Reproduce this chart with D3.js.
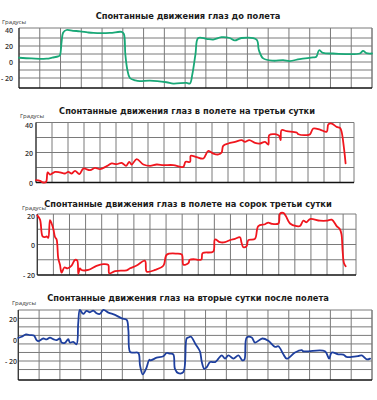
<!DOCTYPE html>
<html>
<head>
<meta charset="utf-8">
<script src="https://cdn.jsdelivr.net/npm/d3@7"></script>
<style>
  body { margin: 0; background: #fff; }
  text { font-family: "Open Sans", sans-serif; }
  .title { font-family: "Liberation Sans Narrow", "DejaVu Sans Condensed", sans-serif; }
</style>
</head>
<body>
<svg id="chart" width="377" height="400"></svg>
<script>
// chart titles and axis words
const titles = [
  "Спонтанные движения глаз до полета",
  "Спонтанные движения глаз в полете на третьи сутки",
  "Спонтанные движения глаз в полете на сорок третьи сутки",
  "Спонтанные движения глаз на вторые сутки после полета"
];
const unitLabel = "Градусы";

// [time (grid columns), degrees]
const beforeFlight = [
  [0,5.3],[0.6,4.5],[1.33,4.1],[1.6,5.5],[1.89,7],[1.97,8.5],[2.05,25],[2.13,37],[2.29,40],
  [2.6,39],[2.94,38.4],[3.3,37],[3.58,36.3],[4.38,36.3],[4.94,37.6],[5.05,35],[5.12,10],
  [5.22,-10],[5.34,-20],[5.6,-23],[5.82,-24],[6.3,-23.3],[7.1,-25.3],[7.43,-27],[8.07,-26],
  [8.23,-27],[8.35,-15],[8.5,10],[8.63,30],[9.03,29],[9.35,28],[9.75,31],[10.15,30],
  [10.39,27],[10.71,30],[11.44,28],[11.55,15],[11.76,4.5],[12.24,1.6],[12.72,2.4],
  [13.04,1.2],[13.52,3.7],[14.16,5.7],[14.32,6.5],[14.45,14.7],[14.64,11.4],[15.12,10.6],
  [16.41,10.6],[16.57,13.9],[16.73,11],[17,10.6]
];
const flightDay3 = [
  [0,1.6],[0.25,1.1],[0.46,0],[0.63,0.4],[0.73,6.7],[0.88,5.3],[1.19,7.1],[1.5,6.7],
  [1.81,6],[2.02,7.1],[2.23,6],[2.44,7.8],[2.71,5.6],[2.96,9.3],[3.38,8.2],[3.69,9.8],
  [4,8.9],[4.42,10.9],[4.73,12.7],[5.04,12.2],[5.35,13.1],[5.63,11.1],[5.83,13.8],
  [5.98,12],[6.29,15.6],[6.71,12],[7.13,11.1],[7.54,12],[7.96,11.6],[8.58,11.6],
  [9.2,10.4],[9.35,13.8],[9.63,13.8],[9.67,17.8],[10.04,16.9],[10.46,16],[10.77,21.1],
  [11.08,19.3],[11.4,18.7],[11.6,20],[11.7,24.4],[12.02,26],[12.44,27.1],[12.85,28.2],
  [13.06,27.1],[13.33,28.2],[13.69,26.4],[14,26],[14.31,27.1],[14.52,25.3],[14.58,31.6],
  [14.94,32.2],[15.2,31.1],[15.29,28.2],[15.35,34.9],[15.67,34.2],[16.29,33.3],
  [16.4,32.2],[16.92,31.6],[17.13,32.2],[17.33,36],[17.75,35.3],[18.17,33.8],
  [18.27,38.7],[18.48,39.3],[18.79,37.1],[19,36.4],[19.1,33.8],[19.25,22.7],[19.35,12.7]
];
const flightDay43 = [
  [0,19.1],[0.17,16.3],[0.33,5.3],[0.48,4.9],[0.58,5.3],[0.68,4.4],[0.79,16],[0.89,13.8],
  [1,10],[1.1,4.9],[1.2,3.3],[1.3,-8.9],[1.41,-13.3],[1.51,-18.5],[1.68,-15.1],
  [1.88,-15.6],[2.13,-13.8],[2.34,-10.1],[2.48,-10.5],[2.55,-19.3],[2.65,-15.6],
  [2.75,-16.7],[3.17,-16.7],[3.68,-14],[4.1,-12.9],[4.41,-13.4],[4.47,-18.9],
  [4.83,-17.4],[5.55,-16.9],[5.76,-15.6],[6.17,-13.8],[6.69,-10.7],[6.8,-17.8],
  [7.32,-16.7],[7.84,-13.8],[8.04,-6.7],[8.67,-6],[8.98,-6.7],[9.08,-13.3],[9.4,-12.1],
  [9.46,-10.1],[9.81,-9.7],[10,-10.1],[10.2,-9.7],[10.27,-5.7],[10.93,-4.6],[11.04,3.3],
  [11.35,1.5],[11.66,1.5],[11.97,2.9],[12.28,3.7],[12.59,4.8],[12.69,1.1],[12.8,-1.8],
  [13,-1.1],[13.11,2.9],[13.52,3.7],[13.73,12.1],[14.15,13.3],[14.35,14.4],[14.56,13.6],
  [14.98,13.8],[15.08,20.2],[15.28,20.7],[15.45,18.5],[15.7,13.8],[16.11,12.1],
  [16.32,12.1],[16.53,15.6],[16.73,14.6],[16.94,16.7],[17.56,15.6],[17.98,15.6],
  [18.29,16.3],[18.6,12.1],[18.8,10],[18.9,6.6],[18.97,-4.4],[19.05,-12.1],[19.16,-14.3]
];
const afterFlight = [
  [0,1.7],[0.16,2.7],[0.37,4.9],[0.56,4.3],[0.75,3.9],[0.88,-0.5],[0.96,-1.4],[1.2,1.1],
  [1.36,0.2],[1.52,2],[1.68,0.5],[1.84,-0.5],[2,1.1],[2.08,-2.7],[2.24,-3],[2.4,0.5],
  [2.48,-2.7],[2.64,-2.1],[2.8,-4.3],[2.88,15.3],[2.96,27.9],[3.12,24.1],[3.28,27],
  [3.44,25.7],[3.6,27.3],[3.76,24.8],[3.92,24.1],[4.09,27.9],[4.33,25.4],[4.65,23.2],
  [4.97,20],[5.21,18.5],[5.29,9],[5.37,-11.5],[5.53,-12.1],[5.77,-12.5],[5.85,-24.1],
  [5.98,-32.6],[6.14,-27.3],[6.3,-18.8],[6.36,-19.4],[6.65,-16.9],[6.97,-15.6],
  [7.13,-12.5],[7.29,-13.1],[7.45,-13.7],[7.53,-27.3],[7.69,-31.4],[7.93,-30.4],
  [8.09,1.1],[8.17,2],[8.3,2.7],[8.5,-3.6],[8.66,-8.4],[8.74,-11.5],[8.82,-21],
  [8.94,-27.3],[9.06,-25.7],[9.22,-21],[9.46,-21],[9.62,-17.8],[9.78,-14.7],[9.94,-17.8],
  [10.1,-14.7],[10.34,-17.8],[10.58,-14.7],[10.77,-19.4],[10.87,-18.5],[10.98,2],
  [11.22,2],[11.38,-2.7],[11.73,1.1],[12.02,-1.1],[12.34,-6.8],[12.5,-6.2],[12.74,-13.7],
  [12.9,-17.8],[13.3,-12.1],[13.62,-9.9],[13.7,-10.9],[13.94,-10.9],[14.74,-10.9],
  [14.94,-17.8],[15.06,-12.1],[15.38,-13.7],[15.62,-14],[15.78,-16.2],[16.02,-16.2],
  [16.35,-15.3],[16.51,-14.7],[16.75,-18.5],[16.91,-17.8]
];

// y tick labels and horizontal grid values per panel
const ticks1 = [40, 20, 0, -20];
const grid1 = [30, 20, 10, 0, -10, -20];
const ticks2 = [40, 20, 0];
const grid2 = [30, 20, 10];
const ticks3 = [20, 0, -20];
const grid3 = [10, 0, -10];
const ticks4 = [20, 0, -20];
const grid4 = [20, 12, 4, -4, -12, -20, -28];

const panels = [
  { title: titles[0], data: beforeFlight, color: "#19a877", left: 19, right: 372, top: 28, bottom: 88,
    xMax: 17, yDomain: [-32.5, 42.5], ticks: ticks1, grid: grid1, titleX: 188, titleW: 185, titleY: 19,
    tickX: 13, unitX: 2, unitY: 24 },
  { title: titles[1], data: flightDay3, color: "#f0161e", left: 36, right: 354, top: 122.5, bottom: 182.5,
    xMax: 19.875, yDomain: [0, 40], ticks: ticks2, grid: grid2, titleX: 187, titleW: 256, titleY: 114,
    tickX: 33, unitX: 20, unitY: 117.5 },
  { title: titles[2], data: flightDay43, color: "#f0161e", left: 37.3, right: 356, top: 214, bottom: 275,
    xMax: 19.8, yDomain: [-20, 20], ticks: ticks3, grid: grid3, titleX: 188, titleW: 288, titleY: 206.5,
    tickX: 35, unitX: 22, unitY: 210 },
  { title: titles[3], data: afterFlight, color: "#1e3f9e", left: 18.3, right: 372, top: 310, bottom: 380,
    xMax: 17, yDomain: [-37.8, 27.8], ticks: ticks4, grid: grid4, titleX: 188, titleW: 282, titleY: 301,
    tickX: 17, unitX: 12, unitY: 305 }
];

const svg = d3.select("#chart");

panels.forEach(function (p) {
  const x = d3.scaleLinear().domain([0, p.xMax]).range([p.left, p.right]);
  const y = d3.scaleLinear().domain(p.yDomain).range([p.bottom, p.top]);
  const g = svg.append("g");

  const title = g.append("text")
    .attr("class", "title")
    .attr("x", p.titleX)
    .attr("y", p.titleY)
    .attr("text-anchor", "middle")
    .attr("font-size", 12)
    .attr("font-weight", 700)
    .attr("fill", "#1a1a1a")
    .text(p.title);
  // size the title to the width it has in the picture
  const w = title.node().getComputedTextLength();
  title.attr("font-size", 12 * p.titleW / w);

  g.append("text")
    .attr("x", p.unitX)
    .attr("y", p.unitY)
    .attr("font-size", 6)
    .attr("fill", "#333")
    .text(unitLabel);

  // vertical grid
  g.selectAll(".vg")
    .data(d3.range(0, Math.floor(p.xMax) + 1).concat([p.xMax]))
    .enter().append("line")
    .attr("x1", d => x(d)).attr("x2", d => x(d))
    .attr("y1", p.top).attr("y2", p.bottom)
    .attr("stroke", "#7a7a7a").attr("stroke-width", 1);

  // horizontal grid
  g.selectAll(".hg")
    .data(p.grid.concat([p.yDomain[1]]))
    .enter().append("line")
    .attr("x1", p.left).attr("x2", p.right)
    .attr("y1", d => y(d)).attr("y2", d => y(d))
    .attr("stroke", "#7a7a7a").attr("stroke-width", 1);

  // left and bottom axis lines
  g.append("line")
    .attr("x1", p.left).attr("x2", p.left).attr("y1", p.top).attr("y2", p.bottom)
    .attr("stroke", "#333").attr("stroke-width", 1.2);
  g.append("line")
    .attr("x1", p.left).attr("x2", p.right).attr("y1", p.bottom).attr("y2", p.bottom)
    .attr("stroke", "#111").attr("stroke-width", 1.6);

  g.selectAll(".tk")
    .data(p.ticks)
    .enter().append("text")
    .attr("x", p.tickX)
    .attr("y", d => Math.max(y(d) + 1, p.top + 3))
    .attr("dy", "0.35em")
    .attr("text-anchor", "end")
    .attr("font-size", 7)
    .attr("font-weight", 600)
    .attr("fill", "#333")
    .text(d => d < 0 ? "- " + Math.abs(d) : d);

  const line = d3.line()
    .x(d => x(d[0]))
    .y(d => y(d[1]))
    .curve(d3.curveCatmullRom.alpha(0.5));

  g.append("path")
    .datum(p.data)
    .attr("d", line)
    .attr("fill", "none")
    .attr("stroke", p.color)
    .attr("stroke-width", 1.8)
    .attr("stroke-linejoin", "round")
    .attr("stroke-linecap", "round");
});
</script>
</body>
</html>
